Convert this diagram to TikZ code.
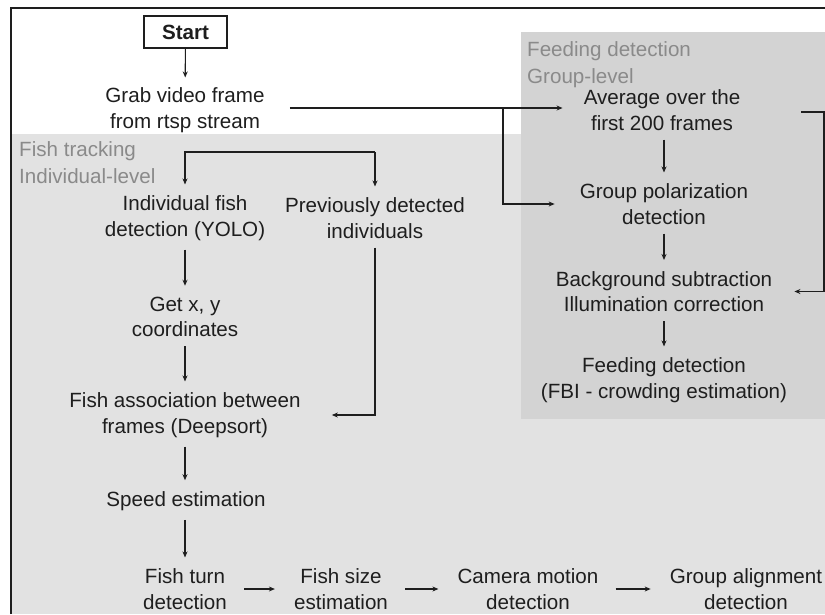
\documentclass[tikz,border=0pt]{standalone}
\usepackage{fontspec}
\setmainfont{Liberation Sans}
\usetikzlibrary{arrows.meta}
\definecolor{lightbg}{HTML}{E2E2E2}
\definecolor{darkbg}{HTML}{D3D3D3}
\definecolor{labelgray}{HTML}{8A8A8A}
\definecolor{ink}{HTML}{1E1E1E}
\begin{document}
\begin{tikzpicture}[x=1pt,y=-1pt,
  txt/.style={align=center, inner sep=0pt, font=\fontsize{20.6}{25.5}\selectfont, text=ink},
  grp/.style={align=left, inner sep=0pt, anchor=north west, font=\fontsize{20.6}{27}\selectfont, text=labelgray},
  arr/.style={draw=ink, line width=1.1pt, -{Stealth[length=6pt,width=5pt]}},
  vrt/.style={arr, shorten <=9pt, shorten >=11pt},
  hrz/.style={arr, shorten <=17pt, shorten >=19pt}]
\useasboundingbox (0,0) rectangle (825,614);
% backgrounds
\fill[lightbg] (12,134) rectangle (825,614);
\fill[darkbg] (521,32) rectangle (825,419);
\draw[ink, line width=1.3pt] (11,614) -- (11,8) -- (825,8);
% group labels
\node[grp] (lblfeed) at (527,41) {Feeding detection\\Group-level};
\node[grp] (lblfish) at (19,141) {Fish tracking\\Individual-level};
% nodes
\node[draw=ink, line width=1.2pt, fill=white, minimum width=83pt, minimum height=32pt, inner sep=0pt,
      font=\fontsize{20.6}{24}\selectfont\bfseries, text=ink] (start) at (185.5,32) {Start};
\node[txt] (grab) at (185,110) {Grab video frame\\from rtsp stream};
\node[txt] (avg) at (662,110) {Average over the\\first 200 frames};
\node[txt] (pol) at (664,204) {Group polarization\\detection};
\node[txt] (bg) at (664,291.5) {Background subtraction\\Illumination correction};
\node[txt] (feed) at (664,380) {Feeding detection\\(FBI - crowding estimation)};
\node[txt] (ind) at (185,218) {Individual fish\\detection (YOLO)};
\node[txt] (prev) at (375,218) {Previously detected\\individuals};
\node[txt] (get) at (185,317) {Get x, y\\coordinates};
\node[txt] (assoc) at (185,415) {Fish association between\\frames (Deepsort)};
\node[txt] (speed) at (186,501) {Speed estimation};
\node[txt] (turn) at (185,589) {Fish turn\\detection};
\node[txt] (size) at (341,589) {Fish size\\estimation};
\node[txt] (cam) at (528,589) {Camera motion\\detection};
\node[txt] (align) at (746,589) {Group alignment\\detection};
% helper coordinates
\coordinate (split) at (503,108);
\coordinate (loopR) at (824,112);
\coordinate (fork) at (280,152);
% connectors
\draw[arr, shorten >=10pt] (start) -- (grab);
\draw[arr, shorten <=25pt, shorten >=21pt] (grab.east |- split) -- (avg.west |- split);
\draw[arr, shorten >=25pt] (split) |- (pol.west);
\draw[vrt] (pol.north |- avg.south) -- (pol);
\draw[vrt] (pol) -- (bg);
\draw[vrt] (bg) -- (feed);
\draw[arr, shorten <=61pt, shorten >=22pt] (avg.east |- loopR) -- (loopR) |- (bg.east);
\draw[arr, shorten >=11pt] (fork -| prev) -- (fork -| ind) -- (ind.north);
\draw[arr, shorten >=11pt] (fork -| prev) -- (prev.north);
\draw[vrt] (ind) -- (get);
\draw[vrt] (get) -- (assoc);
\draw[arr, shorten <=9pt, shorten >=31pt] (prev.south) |- (assoc.east);
\draw[vrt] (assoc) -- (assoc |- speed.north);
\draw[vrt] (speed.south -| turn) -- (turn);
\draw[hrz] (turn) -- (size);
\draw[hrz] (size) -- (cam);
\draw[hrz] (cam) -- (align);
\end{tikzpicture}
\end{document}
